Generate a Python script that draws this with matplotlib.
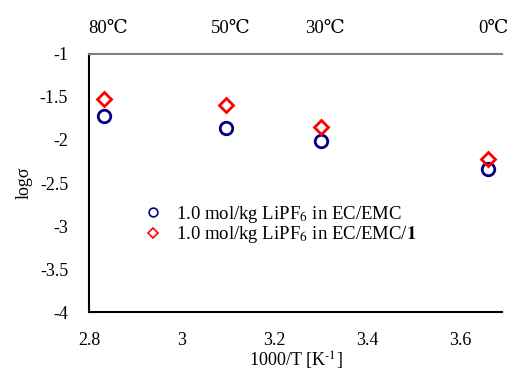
import numpy as np
import matplotlib.pyplot as plt
from matplotlib.transforms import blended_transform_factory

plt.rcParams['font.family'] = ['Liberation Serif', 'DejaVu Serif']
plt.rcParams['mathtext.fontset'] = 'stix'

temps_C = [80, 50, 30, 0]
inv_T = [2.832, 3.095, 3.299, 3.661]
log_sigma_ref = [-1.72, -1.86, -2.01, -2.34]
log_sigma_add = [-1.52, -1.59, -1.85, -2.22]
temp_labels = ['80℃', '50℃', '30℃', '0℃']
x_ticks = [2.8, 3.0, 3.2, 3.4, 3.6]
x_tick_labels = ['2.8', '3', '3.2', '3.4', '3.6']
y_ticks = [-4, -3.5, -3, -2.5, -2, -1.5, -1]
y_tick_labels = ['-4', '-3.5', '-3', '-2.5', '-2', '-1.5', '-1']

fig = plt.figure(figsize=(5.09, 3.72), dpi=100)
ax = fig.add_axes([0.175, 0.161, 0.811, 0.694])

ax.plot(inv_T, log_sigma_ref, 'o', ms=9, mfc='none', mec='#000080', mew=2,
        label='1.0 mol/kg LiPF$_6$ in EC/EMC')
ax.plot(inv_T, log_sigma_add, 'D', ms=7, mfc='none', mec='#ff0000', mew=2,
        label='1.0 mol/kg LiPF$_6$ in EC/EMC/$\\mathbf{1}$')

ax.set_xlim(2.8, 3.69)
ax.set_ylim(-4, -1)
ax.set_xticks(x_ticks)
ax.set_xticklabels(x_tick_labels)
ax.set_yticks(y_ticks)
ax.set_yticklabels(y_tick_labels)
ax.tick_params(length=0, labelsize=13)
ax.tick_params(axis='x', pad=14)
ax.tick_params(axis='y', pad=15)

for s in ['left', 'bottom']:
    ax.spines[s].set_color('black')
    ax.spines[s].set_linewidth(1.5)
ax.spines['top'].set_color('#808080')
ax.spines['top'].set_linewidth(1.5)
ax.spines['right'].set_visible(False)

# temperature labels above the plot
trans = blended_transform_factory(ax.transData, ax.transAxes)
for x, lab in zip(inv_T, temp_labels):
    ax.text(x + 0.01, 1.065, lab, transform=trans, ha='center', va='bottom', fontsize=13.5)

ax.set_xlabel('1000/T [K$^{\\text{-1}}$]', fontsize=13, labelpad=1)
ax.set_ylabel('logσ', fontsize=13, labelpad=5)

leg = ax.legend(loc='center left', bbox_to_anchor=(0.08, 0.34), frameon=False,
                fontsize=13.5, handletextpad=0.5, labelspacing=-0.02,
                handlelength=1.5, markerscale=0.7)
for h in leg.legend_handles:
    h.set_markeredgewidth(1.2)

fig.savefig('out.png', dpi=100)
